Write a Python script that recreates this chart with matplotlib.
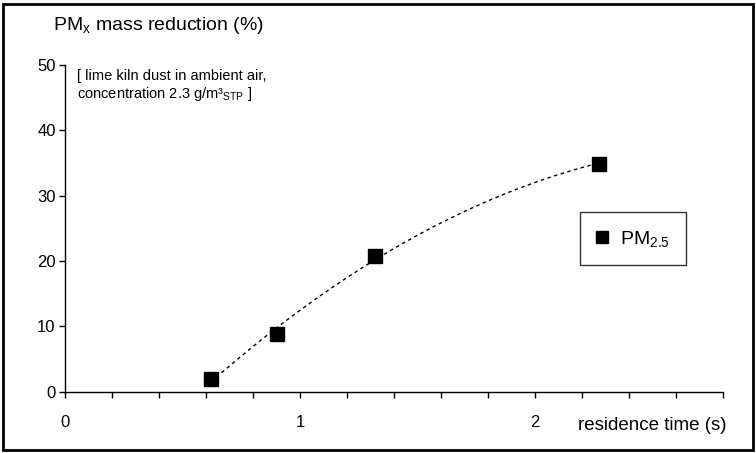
import numpy as np
import matplotlib
matplotlib.use('Agg')
import matplotlib.pyplot as plt
from matplotlib.patches import Rectangle

plt.rcParams['font.family'] = ['Liberation Sans', 'DejaVu Sans']
plt.rcParams['mathtext.fontset'] = 'custom'
plt.rcParams['mathtext.rm'] = 'Liberation Sans'
plt.rcParams['mathtext.it'] = 'Liberation Sans'
plt.rcParams['mathtext.default'] = 'regular'

# residence time (s) vs PM2.5 mass reduction (%)
residence_time = [0.62, 0.90, 1.32, 2.27]
pm25_reduction = [2.0, 8.8, 20.8, 34.9]

fig = plt.figure(figsize=(7.56, 4.53), dpi=100)
ax = fig.add_axes([0.0866, 0.1353, 0.8697, 0.7212])

# polynomial trend line through the measured points
coef = np.polyfit(residence_time, pm25_reduction, 2)
xt = np.linspace(min(residence_time), max(residence_time), 200)
ax.plot(xt, np.polyval(coef, xt), color='black', lw=1, linestyle=(0, (2.5, 2.5)))
ax.plot(residence_time, pm25_reduction, 's', color='black', ms=10,
        label='PM$_{2.5}$', zorder=3)

ax.set_xlim(0, 2.8)
ax.set_ylim(0, 50)
ax.set_yticks([0, 10, 20, 30, 40, 50])
xticks = np.arange(0, 2.81, 0.2)
ax.set_xticks(xticks)
ax.set_xticklabels([str(int(round(v))) if abs(v - round(v)) < 1e-9 else '' for v in xticks])
ax.tick_params(axis='y', direction='out', length=4, width=1, pad=3, labelsize=12)
ax.tick_params(axis='x', direction='out', length=4.5, width=1, pad=12, labelsize=12)
ax.spines['top'].set_visible(False)
ax.spines['right'].set_visible(False)
for s in ['left', 'bottom']:
    ax.spines[s].set_linewidth(1)

fig.text(53 / 756, 1 - 25 / 453, 'PM$_x$ mass reduction (%)', fontsize=14,
         va='center', ha='left')
fig.text(77 / 756, 1 - 86 / 453,
         '[ lime kiln dust in ambient air,\nconcentration 2.3 g/m³$_{STP}$ ]',
         fontsize=10.5, va='center', ha='left', linespacing=1.15)
fig.text(578 / 756, 1 - 426 / 453, 'residence time (s)', fontsize=13.5,
         va='center', ha='left')

leg = ax.legend(loc='upper left', bbox_to_anchor=(580 / 756, 1 - 212 / 453),
                bbox_transform=fig.transFigure, borderaxespad=0, fontsize=14,
                frameon=True, fancybox=False, edgecolor='black', handlelength=0.6,
                handletextpad=0.6, borderpad=0.85, markerscale=0.8)
leg.get_frame().set_linewidth(1)

fig.patches.append(Rectangle((3 / 756, 3 / 453), 750 / 756, 446 / 453,
                             transform=fig.transFigure, fill=False,
                             edgecolor='black', lw=2))

fig.savefig('out.png', dpi=100)
